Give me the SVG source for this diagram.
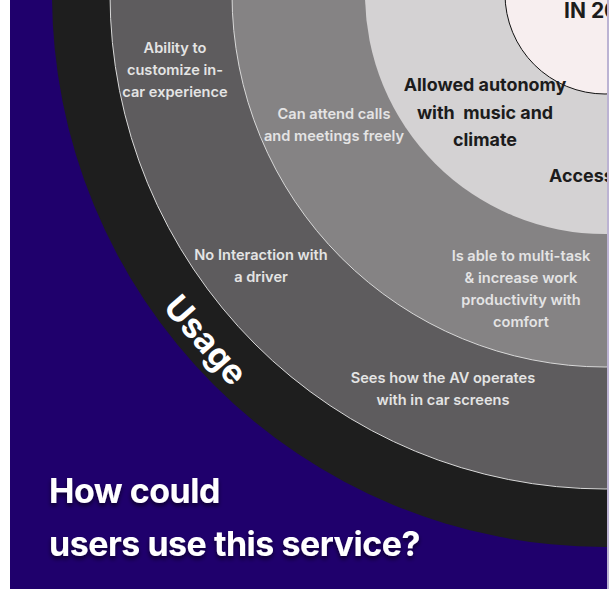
<svg xmlns="http://www.w3.org/2000/svg" width="609" height="589" viewBox="0 0 609 589">
<defs>
<style>
.lbl{font-family:Inter,"Liberation Sans",sans-serif;font-weight:600;font-size:14.6px;fill:#e4e4e4;text-anchor:middle}
.dk{font-family:Inter,"Liberation Sans",sans-serif;font-weight:700;font-size:17.9px;fill:#1c1c1c;text-anchor:middle}
.title{font-family:Inter,"Liberation Sans",sans-serif;font-weight:700;font-size:34px;fill:#ffffff;letter-spacing:-0.5px}
</style>
<filter id="sh" x="-10%" y="-30%" width="120%" height="160%">
<feDropShadow dx="0" dy="3" stdDeviation="2" flood-color="#000" flood-opacity="0.6"/>
</filter>
<clipPath id="clip"><rect x="10" y="0" width="597" height="589"/></clipPath>
</defs>
<rect width="609" height="589" fill="#ffffff"/>
<rect x="10" y="0" width="599" height="589" fill="#1f006c"/>
<g id="rings" clip-path="url(#clip)">
<circle id="ring-outer" cx="605" cy="-6" r="553" fill="#1e1e1e"/>
<circle id="ring-usage" cx="605" cy="-6" r="495" fill="#5e5c5e" stroke="#d8d8d8" stroke-width="1"/>
<circle id="ring-mid" cx="605" cy="-6" r="373" fill="#858384" stroke="#d8d8d8" stroke-width="1"/>
<circle id="ring-light" cx="605" cy="-6" r="240" fill="#d4d2d3"/>
<circle id="core" cx="605" cy="-6" r="100" fill="#f7eeef" stroke="#111" stroke-width="1"/>
<text class="dk" x="564" y="18" style="font-size:21px;text-anchor:start">IN 2030</text>
<text class="dk" x="549" y="182" style="text-anchor:start">Accessibility</text>
</g>
<rect x="607" y="0" width="2" height="589" fill="#ffffff" opacity="0.7"/>
<g id="n1"><text class="lbl" x="175" y="53">Ability to</text><text class="lbl" x="175" y="75">customize in-</text><text class="lbl" x="175" y="97">car experience</text></g>
<g id="n2"><text class="lbl" x="334" y="119">Can attend calls</text><text class="lbl" x="334" y="141">and meetings freely</text></g>
<g id="n3"><text class="dk" x="485" y="91">Allowed autonomy</text><text class="dk" x="485" y="119" xml:space="preserve">with  music and</text><text class="dk" x="485" y="146">climate</text></g>
<g id="n4"><text class="lbl" x="261" y="260">No Interaction with</text><text class="lbl" x="261" y="282">a driver</text></g>
<g id="n5"><text class="lbl" x="521" y="261">Is able to multi-task</text><text class="lbl" x="521" y="283">&amp; increase work</text><text class="lbl" x="521" y="305">productivity with</text><text class="lbl" x="521" y="327">comfort</text></g>
<g id="n6"><text class="lbl" x="443" y="383">Sees how the AV operates</text><text class="lbl" x="443" y="405">with in car screens</text></g>
<g id="usage"><text transform="translate(206,340) rotate(49)" x="0" y="12" style="font-family:Inter,'Liberation Sans',sans-serif;font-weight:700;font-size:34px;fill:#fff;text-anchor:middle">Usage</text></g>
<g id="title" filter="url(#sh)"><text class="title" x="49" y="503">How could</text><text class="title" x="49" y="556">users use this service?</text></g>
<g id="connectors"/>
</svg>
